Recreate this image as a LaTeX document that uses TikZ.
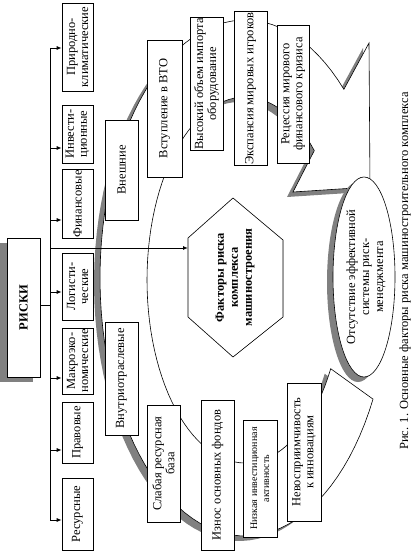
\documentclass[tikz,border=0pt]{standalone}
\usepackage{fontspec}
\setmainfont{Liberation Serif}
\usetikzlibrary{arrows.meta}
\tikzstyle{box}=[draw, fill=white, rotate=90, align=center, inner sep=1pt, line width=0.6pt, font=\fontsize{12.5}{13}\selectfont]
\tikzstyle{edge}=[-{Latex[length=5pt,width=4pt]}, line width=0.9pt]
\tikzstyle{shade}=[fill=black!50]
\tikzstyle{ring}=[draw, fill=white, line width=0.6pt]
\newcommand{\ringpath}{plot[domain=28:313, samples=90] ({245+145*cos(\x)},{278+258*sin(\x)}) -- (369,43) -- (370,187) -- (293,192) -- plot[domain=315:29, samples=90] ({245+98*cos(\x)},{280+183*sin(\x)}) -- cycle}

\begin{document}
\begin{tikzpicture}[x=1pt, y=-1pt]
      \useasboundingbox (0,0) rectangle (415,551);
      \fill[shade, shift={(-6,5)}] \ringpath;
      \path[ring] \ringpath;
      \fill[shade] (358,282) ellipse [x radius=31, y radius=100];
      \draw[ring] (364,277) ellipse [x radius=31, y radius=100];
      \node(mgmt) [rotate=90, align=center, font=\fontsize{12.5}{14}\selectfont] at (366,277){Отсутствие эффективной\\системы риск-\\менеджмента};
      \coordinate(h1) at (233,198);
      \coordinate(h2) at (283,240);
      \coordinate(h3) at (283,317);
      \coordinate(h4) at (233,357);
      \coordinate(h5) at (188,317);
      \coordinate(h6) at (188,238);
      \fill[shade, shift={(-6,5)}] (h1) -- (h2) -- (h3) -- (h4) -- (h5) -- (h6) -- cycle;
      \draw[ring] (h1) -- (h2) -- (h3) -- (h4) -- (h5) -- (h6) -- cycle;
      \node(core) [rotate=90, align=center, font=\bfseries\fontsize{12.5}{14}\selectfont] at (235,277.5){Факторы риска\\комплекса\\машиностроения};
      \fill[shade] (0,243) rectangle (33,382);
      \node(risks) [box, minimum width=139, minimum height=33, font=\bfseries\fontsize{12.5}{13}\selectfont] at (23.5,307.5){РИСКИ};
      \node(nat) [box, minimum width=88, minimum height=31] at (77.5,47){Природно-\\климатические};
      \node(inv) [box, minimum width=58, minimum height=31] at (77.5,134){Инвести-\\ционные};
      \node(fin) [box, minimum width=62, minimum height=31] at (77.5,204){Финансовые};
      \node(log) [box, minimum width=67, minimum height=31] at (77.5,286.5){Логисти-\\ческие};
      \node(mac) [box, minimum width=66, minimum height=31] at (77.5,361){Макроэко-\\номические};
      \node(law) [box, minimum width=61, minimum height=31] at (77.5,432.5){Правовые};
      \node(res) [box, minimum width=72, minimum height=31] at (77.5,514){Ресурсные};
      \node(ext) [box, minimum width=100, minimum height=33] at (121.5,170){Внешние};
      \node(int) [box, minimum width=113, minimum height=33] at (121.5,378.5){Внутриотраслевые};
      \node(wto) [box, minimum width=137, minimum height=35] at (164.5,108.5){Вступление в ВТО};
      \node(imp) [box, minimum width=128, minimum height=33] at (206.5,84){Высокий объем импорта\\оборудование};
      \node(exp) [box, minimum width=149, minimum height=33] at (250.5,88.5){Экспансия мировых игроков};
      \node(rec) [box, minimum width=138, minimum height=32] at (293,94){Рецессия мирового\\финансового кризиса};
      \node(weak) [box, minimum width=117, minimum height=33] at (163.5,463.5){Слабая ресурсная\\база};
      \node(wear) [box, minimum width=150, minimum height=33] at (217.5,475){Износ основных фондов};
      \node(low) [box, minimum width=117, minimum height=34, font=\fontsize{10}{12}\selectfont] at (260,478.5){Низкая инвестиционная\\активность};
      \node(inn) [box, minimum width=138, minimum height=34] at (304,452){Невосприимчивость\\к инновациям};
      \node(cap) [rotate=90, font=\fontsize{12.5}{14}\selectfont] at (405,271){Рис. 1. Основные факторы риска машиностроительного комплекса};
      \coordinate(b1) at (50,48);
      \coordinate(b2) at (50,148);
      \coordinate(b3) at (50,220);
      \coordinate(b4) at (50,292);
      \coordinate(b5) at (50,378);
      \coordinate(b6) at (50,450);
      \coordinate(b7) at (50,520);
      \coordinate(r0) at (50,305);
      \coordinate(c0) at (50,248);
      \draw[line width=0.9pt] (b1) to (b7);
      \draw[line width=0.9pt] (r0 -| risks.south) to (r0);
      \draw[edge] (b1) to (b1 -| nat.north);
      \draw[edge] (b2) to (b2 -| inv.north);
      \draw[edge] (b3) to (b3 -| fin.north);
      \draw[edge] (b4) to (b4 -| log.north);
      \draw[edge] (b5) to (b5 -| mac.north);
      \draw[edge] (b6) to (b6 -| law.north);
      \draw[edge] (b7) to (b7 -| res.north);
      \draw[edge] (c0) to (c0 -| h6);
\end{tikzpicture}
\end{document}
